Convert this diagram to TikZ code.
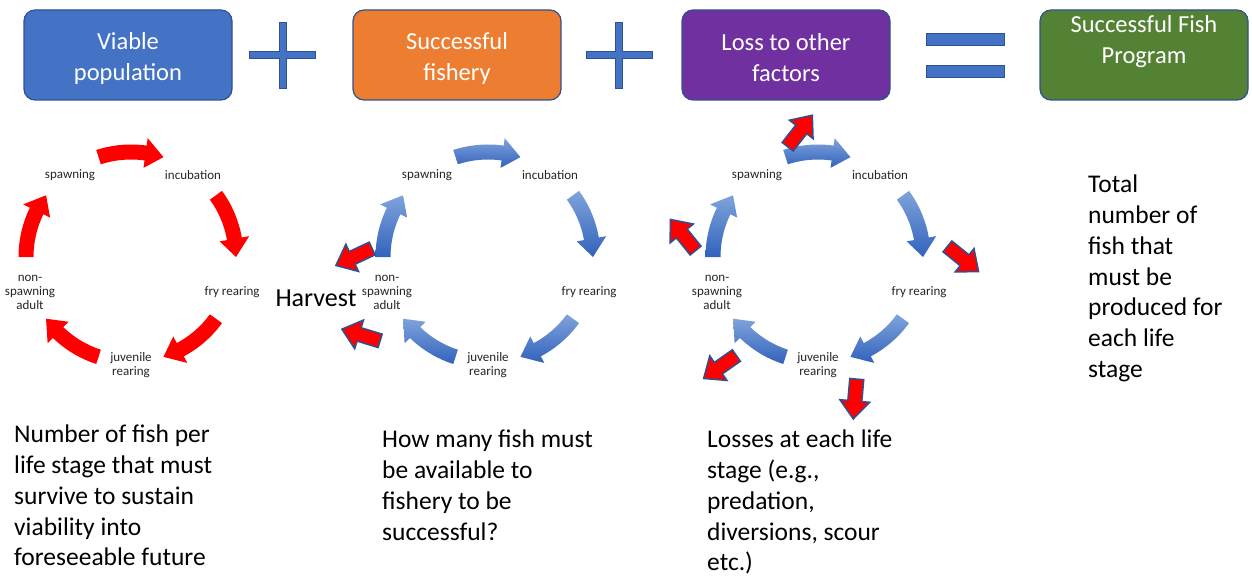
\documentclass[tikz,border=0pt]{standalone}
\usepackage{fontspec}
\setmainfont{Carlito}
\definecolor{boxblue}{HTML}{4472C4}
\definecolor{boxorange}{HTML}{ED7D31}
\definecolor{boxpurple}{HTML}{7030A0}
\definecolor{boxgreen}{HTML}{548235}
\definecolor{edgeblue}{HTML}{2F528F}
\definecolor{ringred}{HTML}{FF0000}
\definecolor{ringlight}{HTML}{7FA3DB}
\definecolor{ringdark}{HTML}{3262BC}
\definecolor{stagegray}{HTML}{262626}

\tikzset{
  headbox/.style={draw=edgeblue, line width=1.2pt, rounded corners=11pt,
    minimum width=208pt, minimum height=90pt, text=white, inner sep=0pt,
    font=\fontsize{24.5}{31}\selectfont, align=center},
  stage/.style={font=\fontsize{13}{14}\selectfont, text=stagegray, align=center, inner sep=0pt},
  note/.style={font=\fontsize{25.5}{30.7}\selectfont, align=left, anchor=north west, inner sep=0pt},
  redring/.style={fill=ringred},
  bluering/.style={top color=ringlight, bottom color=ringdark},
  sign/.style={fill=boxblue, draw=edgeblue, line width=1pt},
  cutarrow/.pic={
    \filldraw[fill=ringred, draw=edgeblue, line width=1.5pt, line join=miter]
      (-20,-7) -- (2,-7) -- (2,-15) -- (20,0) -- (2,15) -- (2,7) -- (-20,7) -- cycle;},
  plussign/.pic={
    \filldraw[sign] (-3.5,33) -- (3.5,33) -- (3.5,3.5) -- (33,3.5) -- (33,-3.5)
      -- (3.5,-3.5) -- (3.5,-33) -- (-3.5,-33) -- (-3.5,-3.5) -- (-33,-3.5)
      -- (-33,3.5) -- (-3.5,3.5) -- cycle;}
}

% curved block arrow on the life-cycle ring: #1 style, #2 ring centre, #3 mid angle
\newcommand\ringarrow[3]{%
  \begin{scope}[shift={#2}]
    \path[#1] ({#3+18}:112.5) arc[start angle={#3+18}, end angle={#3-8}, radius=112.5pt]
      -- ({#3-8}:120) -- ({#3-18}:105) -- ({#3-8}:90) -- ({#3-8}:97.5)
      arc[start angle={#3-8}, end angle={#3+18}, radius=97.5pt] -- cycle;
  \end{scope}}

% one life cycle: #1 name prefix, #2 centre x, #3 arrow style
\newcommand\lifecycle[3]{%
  \coordinate (#1c) at (#2,-257);
  \node[stage] (#1spawn) at (#2-61,-175) {spawning};
  \node[stage] (#1incub) at (#2+62,-175) {incubation};
  \node[stage] (#1fry) at (#2+101,-292) {fry rearing};
  \node[stage] (#1juv) at (#2,-365) {juvenile\\rearing};
  \node[stage] (#1adult) at (#2-101,-292) {non-\\spawning\\adult};
  \ringarrow{#3}{(#1c)}{90}
  \ringarrow{#3}{(#1c)}{18}
  \ringarrow{#3}{(#1c)}{-54}
  \ringarrow{#3}{(#1c)}{-126}
  \ringarrow{#3}{(#1c)}{162}}

\begin{document}
\begin{tikzpicture}[x=1pt,y=1pt]
\useasboundingbox[fill=white] (0,0) rectangle (1252,-580);

% equation across the top
\node[headbox, fill=boxblue] (viable) at (128,-55) {};
\node[headbox, draw=none, fill=none, minimum width=0pt, minimum height=0pt] (viabletext) at (128,-58) {Viable\\population};
\pic at (282.5,-55.5) {plussign};
\node[headbox, fill=boxorange] (fishery) at (457,-55) {};
\node[headbox, draw=none, fill=none, minimum width=0pt, minimum height=0pt] (fisherytext) at (457,-58) {Successful\\fishery};
\pic at (619,-55.5) {plussign};
\node[headbox, fill=boxpurple] (loss) at (786,-55) {};
\node[headbox, draw=none, fill=none, minimum width=0pt, minimum height=0pt] (losstext) at (786,-58) {Loss to other\\factors};
\filldraw[sign] (926,-34) rectangle (1004,-46);
\filldraw[sign] (926,-66) rectangle (1004,-78);
\node[headbox, fill=boxgreen] (program) at (1144,-55) {};
\node[headbox, draw=none, fill=none, minimum width=0pt, minimum height=0pt] (programtext) at (1144,-42) {Successful Fish\\Program};

% three life cycles
\lifecycle{a}{131}{redring}
\lifecycle{b}{488}{bluering}
\lifecycle{c}{818}{bluering}

% harvest taken from the fishery cycle
\node[font=\fontsize{26}{28}\selectfont, inner sep=0pt] (harvest) at (316,-298) {Harvest};
\pic[rotate=205] at (354,-257) {cutarrow};
\pic[rotate=163] at (361,-335) {cutarrow};

% losses at each stage
\pic[rotate=52] at (800,-131) {cutarrow};
\pic[rotate=129] at (683,-235) {cutarrow};
\pic[rotate=-39] at (963,-259) {cutarrow};
\pic[rotate=215] at (720,-367) {cutarrow};
\pic[rotate=-95] at (855,-399) {cutarrow};

% explanatory notes
\node[note] (note1) at (14,-425) {Number of fish per\\life stage that must\\survive to sustain\\viability into\\foreseeable future};
\node[note] (note2) at (382,-430) {How many fish must\\be available to\\fishery to be\\successful?};
\node[note] (note3) at (707,-430) {Losses at each life\\stage (e.g.,\\predation,\\diversions, scour\\etc.)};
\node[note] (note4) at (1088,-175) {Total\\number of\\fish that\\must be\\produced for\\each life\\stage};
\end{tikzpicture}
\end{document}
